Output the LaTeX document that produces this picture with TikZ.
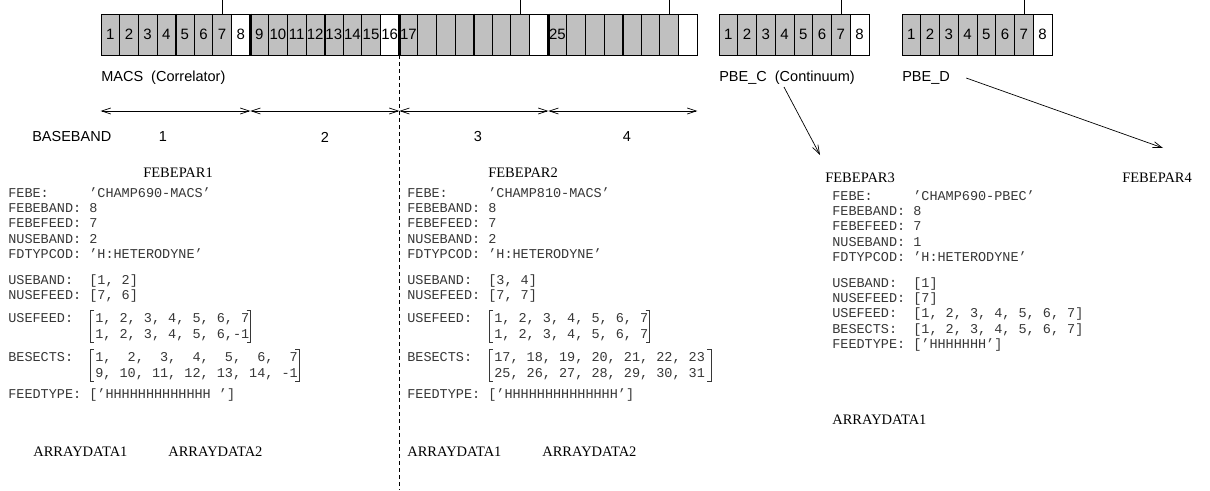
\documentclass[tikz,border=0pt]{standalone}
\usepackage{fontspec}
\setmainfont{Liberation Serif}
\setsansfont{Liberation Sans}
\newfontfamily\febemono{Liberation Mono}
\usetikzlibrary{positioning}
\usetikzlibrary{arrows.meta}
\definecolor{cellgray}{RGB}{192,192,192}
\definecolor{monotext}{RGB}{55,55,55}

\begin{document}
\begin{tikzpicture}
  [x=1pt,y=-1pt,line width=0.6pt,
   >={Straight Barb[length=9pt,width=6pt]},
   cellnum/.style={inner sep=0pt,font=\sffamily\fontsize{15}{17}\selectfont},
   cell/.style={cellnum,rectangle,draw,fill=cellgray,minimum width=18.625pt,minimum height=41pt},
   pcell/.style={cell,minimum width=18.75pt},
   sep4/.style={line width=2pt},
   sep8/.style={line width=3.5pt},
   sans/.style={anchor=west,inner sep=0pt,font=\sffamily\fontsize{14.5}{17}\selectfont},
   serif/.style={anchor=west,inner sep=0pt,font=\rmfamily\fontsize{14.5}{17}\selectfont},
   mono/.style={anchor=west,inner sep=0pt,text height=9pt,text depth=3pt,text=monotext,
                font=\febemono\fontsize{13.5}{15.4}\selectfont},
   bracket/.style={draw=monotext},
   span/.style={<->,line width=0.7pt},
   feed/.style={->,line width=0.7pt}]
  \useasboundingbox (0,0) rectangle (1210,490);
  \coordinate (top) at (0,0);
  \coordinate (bottom) at (0,490);
  \coordinate (bbrow) at (0,111);

  % MACS correlator, 4 basebands of 8 sections
  \foreach \i in {1,...,32}{
    \pgfmathtruncatemacro{\cmod}{mod(\i,8)}
    \ifnum\cmod=0 \def\cfill{white}\else\def\cfill{cellgray}\fi
    \ifnum\i<17 \edef\ctext{\i}\else\def\ctext{}\fi
    \node (m\i) [cell,fill=\cfill] at ({101+(\i-0.5)*18.625},34.5) {\ctext};
  }
  \foreach \j in {4,12,20,28} \draw [sep4] (m\j.north east) -- (m\j.south east);
  \foreach \j in {8,16,24} \draw [sep8] (m\j.north east) -- (m\j.south east);
  \node (n17) [cellnum,right=1pt of m17.west] {17};
  \node (n25) [cellnum,right=1pt of m25.west] {25};

  % PBE_C and PBE_D
  \foreach \i in {1,...,8}{
    \ifnum\i=8 \def\cfill{white}\else\def\cfill{cellgray}\fi
    \node (c\i) [pcell,fill=\cfill] at ({719+(\i-0.5)*18.75},34.5) {\i};
    \node (d\i) [pcell,fill=\cfill] at ({902+(\i-0.5)*18.75},34.5) {\i};
  }
  \foreach \c in {m7,m23,m31,c7,d7} \draw (\c.north) -- (\c.north |- top);

  \node (macs) [sans] at (101,78) {MACS~~(Correlator)};
  \node (pbec) [sans] at (719,78) {PBE\_C~~(Continuum)};
  \node (pbed) [sans] at (902,78) {PBE\_D};

  \draw [dash pattern=on 4pt off 3pt] (m16.south east) -- (m16.south east |- bottom);

  % basebands
  \coordinate (bb0) at (m1.south west |- bbrow);
  \coordinate (bb1) at (m8.south east |- bbrow);
  \coordinate (bb2) at (m16.south east |- bbrow);
  \coordinate (bb3) at (m24.south east |- bbrow);
  \coordinate (bb4) at (m32.south east |- bbrow);
  \draw [span] (bb0) -- (bb1);
  \draw [span] (bb1) -- (bb2);
  \draw [span] (bb2) -- (bb3);
  \draw [span] (bb3) -- (bb4);
  \node (bbname) [sans] at (32,137) {BASEBAND};
  \node (bbn1) [sans,anchor=center] at (163,137) {1};
  \node (bbn2) [sans,anchor=center] at (325,137) {2};
  \node (bbn3) [sans,anchor=center] at (478,137) {3};
  \node (bbn4) [sans,anchor=center] at (627,137) {4};

  % FEBEPAR1
  \node (fp1) [serif] at (143,173) {FEBEPAR1};
  \node (fp1a) [mono] at (8,194) {FEBE:~~~~~’CHAMP690-MACS’};
  \node (fp1b) [mono] at (8,209.4) {FEBEBAND:~8};
  \node (fp1c) [mono] at (8,224.8) {FEBEFEED:~7};
  \node (fp1d) [mono] at (8,240.2) {NUSEBAND:~2};
  \node (fp1e) [mono] at (8,255.6) {FDTYPCOD:~’H:HETERODYNE’};
  \node (fp1f) [mono] at (8,281) {USEBAND:~~[1,~2]};
  \node (fp1g) [mono] at (8,296.4) {NUSEFEED:~[7,~6]};
  \node (fp1h) [mono] at (8,319) {USEFEED:};
  \node (uf1a) [mono] at (95,319) {1,~2,~3,~4,~5,~6,~7};
  \node (uf1b) [mono] at (95,335) {1,~2,~3,~4,~5,~6,-1};
  \node (fp1i) [mono] at (8,358) {BESECTS:};
  \node (bs1a) [mono] at (95,358) {1,~~2,~~3,~~4,~~5,~~6,~~7};
  \node (bs1b) [mono] at (95,374) {9,~10,~11,~12,~13,~14,~-1};
  \node (fp1j) [mono] at (8,395) {FEEDTYPE:~[’HHHHHHHHHHHHH~’]};
  \node (ad11) [serif] at (33,452) {ARRAYDATA1};
  \node (ad12) [serif] at (168,452) {ARRAYDATA2};

  % FEBEPAR2
  \node (fp2) [serif] at (488,173) {FEBEPAR2};
  \node (fp2a) [mono] at (407,194) {FEBE:~~~~~’CHAMP810-MACS’};
  \node (fp2b) [mono] at (407,209.4) {FEBEBAND:~8};
  \node (fp2c) [mono] at (407,224.8) {FEBEFEED:~7};
  \node (fp2d) [mono] at (407,240.2) {NUSEBAND:~2};
  \node (fp2e) [mono] at (407,255.6) {FDTYPCOD:~’H:HETERODYNE’};
  \node (fp2f) [mono] at (407,281) {USEBAND:~~[3,~4]};
  \node (fp2g) [mono] at (407,296.4) {NUSEFEED:~[7,~7]};
  \node (fp2h) [mono] at (407,319) {USEFEED:};
  \node (uf2a) [mono] at (494,319) {1,~2,~3,~4,~5,~6,~7};
  \node (uf2b) [mono] at (494,335) {1,~2,~3,~4,~5,~6,~7};
  \node (fp2i) [mono] at (407,358) {BESECTS:};
  \node (bs2a) [mono] at (494,358) {17,~18,~19,~20,~21,~22,~23};
  \node (bs2b) [mono] at (494,374) {25,~26,~27,~28,~29,~30,~31};
  \node (fp2j) [mono] at (407,395) {FEEDTYPE:~[’HHHHHHHHHHHHHH’]};
  \node (ad21) [serif] at (407,452) {ARRAYDATA1};
  \node (ad22) [serif] at (542,452) {ARRAYDATA2};

  % matrix brackets
  \foreach \mx/\gap in {uf1/1,bs1/1,uf2/1,bs2/6}{
    \draw [bracket] ([xshift=-1pt,yshift=2pt]\mx a.north west) -| ([xshift=-5pt,yshift=-1pt]\mx b.south west) -- ++(4,0);
    \draw [bracket] ([xshift=\gap pt-4pt,yshift=2pt]\mx a.north east) -| ([xshift=\gap pt,yshift=-1pt]\mx b.south east) -- ++(-4,0);
  }

  % FEBEPAR3
  \node (fp3) [serif] at (825,178) {FEBEPAR3};
  \node (fp3a) [mono] at (832,197) {FEBE:~~~~~’CHAMP690-PBEC’};
  \node (fp3b) [mono] at (832,212.4) {FEBEBAND:~8};
  \node (fp3c) [mono] at (832,227.8) {FEBEFEED:~7};
  \node (fp3d) [mono] at (832,243.2) {NUSEBAND:~1};
  \node (fp3e) [mono] at (832,258.6) {FDTYPCOD:~’H:HETERODYNE’};
  \node (fp3f) [mono] at (832,284) {USEBAND:~~[1]};
  \node (fp3g) [mono] at (832,299.4) {NUSEFEED:~[7]};
  \node (fp3h) [mono] at (832,314.8) {USEFEED:~~[1,~2,~3,~4,~5,~6,~7]};
  \node (fp3i) [mono] at (832,330.2) {BESECTS:~~[1,~2,~3,~4,~5,~6,~7]};
  \node (fp3j) [mono] at (832,345.6) {FEEDTYPE:~[’HHHHHHH’]};
  \node (ad31) [serif] at (832,420) {ARRAYDATA1};

  % FEBEPAR4
  \node (fp4) [serif] at (1122,178) {FEBEPAR4};

  \coordinate (fp3in) at (820,155);
  \coordinate (fp4in) at (1163,148);
  \draw [feed] ([xshift=-3pt,yshift=-2pt]pbec.south) -- (fp3in);
  \draw [feed] ([xshift=16pt]pbed.east) -- (fp4in);
\end{tikzpicture}
\end{document}
